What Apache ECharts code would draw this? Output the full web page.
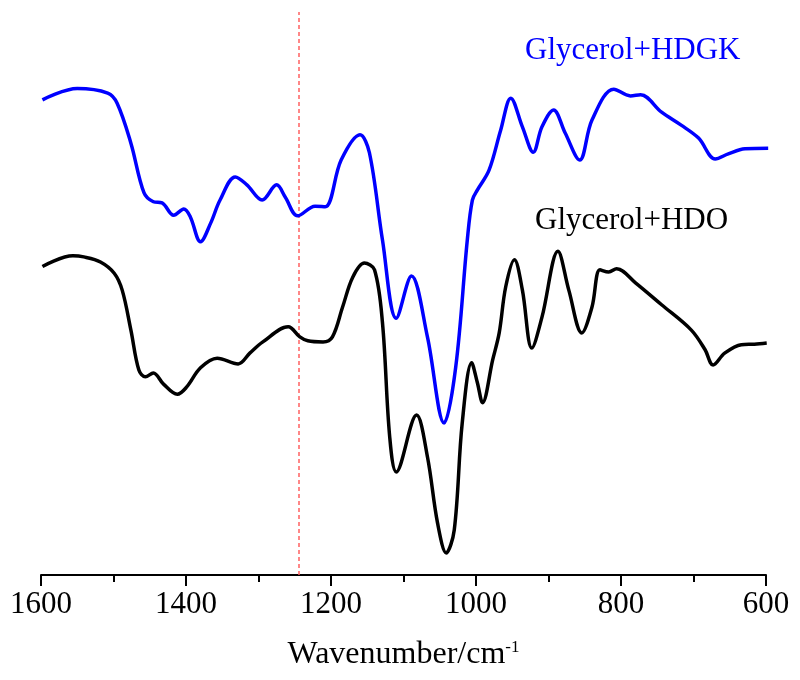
<!DOCTYPE html>
<html>
<head>
<meta charset="utf-8">
<style>
  html, body { margin: 0; padding: 0; background: #fff; }
  #chart { width: 800px; height: 680px; }
</style>
<script src="https://cdn.jsdelivr.net/npm/echarts@6/dist/echarts.min.js"></script>
</head>
<body>
<div id="chart"></div>
<script>
// wavenumber (cm-1) / relative transmittance
const hdgkWave = [1598, 1550, 1508, 1495, 1476, 1458, 1445, 1433, 1417, 1403, 1394, 1380, 1366, 1353, 1332, 1316, 1295, 1275, 1263, 1246, 1222, 1208, 1186, 1160, 1147, 1129, 1110, 1089, 1067, 1044, 1028, 1012, 1005, 998, 982, 966, 952, 936, 921, 909, 893, 877, 857, 840, 810, 787, 773, 744, 717, 693, 670, 652, 629, 597];
const hdgkValue = [84.4, 86.4, 85.6, 83.8, 76.7, 67.9, 66.3, 66.1, 63.9, 65.0, 63.6, 59.2, 62.5, 66.6, 70.7, 69.3, 66.6, 69.3, 67.1, 63.8, 65.5, 65.4, 73.7, 78.2, 75.0, 59.5, 45.6, 53.1, 42.3, 27.0, 36.9, 59.5, 66.6, 68.4, 71.9, 79.0, 84.7, 79.6, 75.1, 79.6, 82.6, 78.5, 73.7, 80.8, 86.3, 85.1, 85.3, 82.2, 79.9, 77.6, 73.9, 74.8, 75.7, 75.8];

const hdoWave = [1598, 1556, 1541, 1518, 1499, 1488, 1476, 1465, 1456, 1445, 1431, 1412, 1399, 1380, 1357, 1328, 1312, 1294, 1259, 1243, 1232, 1211, 1198, 1184, 1170, 1154, 1140, 1129, 1119, 1110, 1082, 1067, 1053, 1041, 1030, 1019, 1006, 998, 991, 977, 968, 959, 947, 936, 923, 909, 887, 872, 854, 840, 829, 817, 806, 780, 744, 703, 684, 673, 657, 634, 616, 599];
const hdoValue = [54.8, 56.7, 56.5, 55.6, 53.6, 50.6, 43.5, 36.4, 35.2, 35.9, 33.9, 32.1, 33.4, 36.8, 38.5, 37.5, 39.4, 41.4, 44.1, 42.3, 41.6, 41.4, 42.3, 47.6, 52.9, 55.4, 54.2, 44.8, 24.5, 18.3, 28.4, 21.0, 9.2, 3.9, 8.0, 27.0, 37.7, 34.1, 30.6, 38.2, 43.0, 51.2, 56.0, 50.6, 40.3, 45.8, 57.5, 50.6, 43.0, 47.6, 54.2, 53.8, 54.4, 51.9, 48.0, 43.5, 40.0, 37.3, 39.4, 40.9, 41.0, 41.2];

const refLine = 1245;
const xTicks = [1600, 1400, 1200, 1000, 800, 600];

const FONT = '"Liberation Serif", "Times New Roman", serif';

const zip = (xs, ys) => xs.map((x, i) => [x, ys[i]]);

const chart = echarts.init(document.getElementById('chart'), null, { renderer: 'canvas' });

const option = {
  animation: false,
  grid: { left: 41, right: 34, top: 12, bottom: 105 },
  xAxis: {
    type: 'value',
    inverse: true,
    min: 600,
    max: 1600,
    interval: 200,
    axisLine: { show: true, onZero: false, lineStyle: { color: '#000', width: 2 } },
    axisTick: { show: true, length: 11, lineStyle: { color: '#000', width: 2 } },
    minorTick: { show: true, splitNumber: 2, length: 7, lineStyle: { color: '#000', width: 2 } },
    splitLine: { show: false },
    axisLabel: {
      margin: 14,
      fontFamily: FONT,
      fontSize: 31,
      color: '#000',
      formatter: v => (xTicks.includes(v) ? String(v) : ''),
    },
    name: '{a|Wavenumber/cm}{s|-1}',
    nameLocation: 'middle',
    nameGap: 64,
    nameTextStyle: {
      rich: {
        a: { fontFamily: FONT, fontSize: 32, color: '#000' },
        s: { fontFamily: FONT, fontSize: 17, color: '#000', verticalAlign: 'top', padding: [0, 0, 14, 0] },
      },
    },
  },
  yAxis: {
    type: 'value',
    min: 0,
    max: 100,
    show: false,
  },
  series: [
    {
      name: 'Glycerol+HDGK',
      type: 'line',
      data: zip(hdgkWave, hdgkValue),
      smooth: 0.35,
      showSymbol: false,
      lineStyle: { color: '#0000ff', width: 3.5 },
      z: 3,
    },
    {
      name: 'Glycerol+HDO',
      type: 'line',
      data: zip(hdoWave, hdoValue),
      smooth: 0.35,
      showSymbol: false,
      lineStyle: { color: '#000', width: 3.5 },
      z: 3,
      markLine: {
        silent: true,
        symbol: 'none',
        label: { show: false },
        lineStyle: { color: '#ff6060', type: [4, 3], width: 1.5 },
        data: [{ xAxis: refLine }],
        z: 1,
      },
    },
  ],
  graphic: [
    {
      type: 'text',
      left: 525,
      top: 35,
      style: { text: 'Glycerol+HDGK', fontFamily: FONT, fontSize: 31, fill: '#0000ff' },
    },
    {
      type: 'text',
      left: 535,
      top: 205,
      style: { text: 'Glycerol+HDO', fontFamily: FONT, fontSize: 31, fill: '#000' },
    },
  ],
};

chart.setOption(option);
window.addEventListener('resize', chart.resize);
</script>
</body>
</html>
